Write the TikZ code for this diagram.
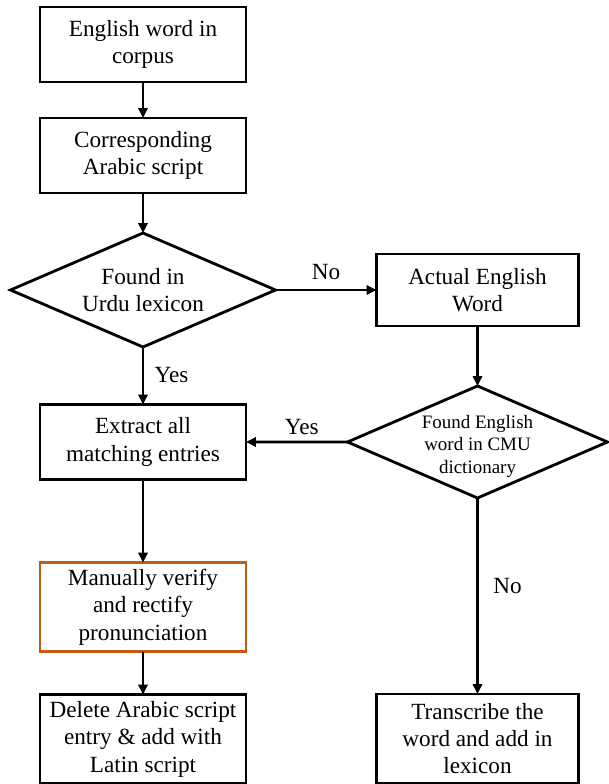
\documentclass[tikz,border=0pt]{standalone}
\usepackage{fontspec}
\setmainfont{Liberation Serif}
\usetikzlibrary{positioning,shapes.geometric,arrows.meta}
\definecolor{verifyorange}{RGB}{197,90,17}
\tikzset{
  stepbox/.style={draw, line width=2pt, outer sep=0pt, minimum width=5.15cm, minimum height=1.875cm,
    align=center, inner sep=2pt, font=\fontsize{16.5}{19.5}\selectfont},
  decision/.style={draw, diamond, line width=2pt, outer sep=0pt, inner sep=0pt},
  flow/.style={-{Triangle[length=7pt,width=6.5pt]}, line width=2pt},
  answer/.style={font=\fontsize{16.5}{19.5}\selectfont}
}

\begin{document}
\begin{tikzpicture}[node distance=0.9cm]
\useasboundingbox (0,0) rectangle (15.2,-19.6);
\node(corpus)     [stepbox] at (3.575,-1.1125) {English word in\\corpus};
\node(arabic)     [stepbox, below=0.9cm of corpus] {Corresponding\\Arabic script};
\node(urdu)       [decision, minimum width=6.625cm, minimum height=2.85cm, below=1cm of arabic,
                   label={[answer, align=center]center:Found in\\Urdu lexicon}] {};
\node(english)    [stepbox, minimum width=5.05cm, minimum height=1.8cm, right=2.525cm of urdu] {Actual English\\Word};
\node(cmu)        [decision, minimum width=6.5cm, minimum height=2.8cm, below=1.5cm of english,
                   label={[align=center, font=\fontsize{13.5}{16}\selectfont, yshift=-3pt]center:Found English\\word in CMU\\dictionary}] {};
\node(extract)    [stepbox, below=1.4375cm of urdu] {Extract all\\matching entries};
\node(verify)     [stepbox, draw=verifyorange, line width=1.6pt, minimum height=2.225cm, below=2.075cm of extract] {Manually verify\\and rectify\\pronunciation};
\node(delete)     [stepbox, minimum height=2.225cm, below=1.075cm of verify] {Delete Arabic script\\entry \& add with\\Latin script};
\node(transcribe) [stepbox, minimum width=5.05cm, minimum height=2.225cm, below=4.9cm of cmu] {Transcribe the\\word and add in\\lexicon};
\draw[flow](corpus) -- (arabic);
\draw[flow](arabic) -- (urdu);
\draw[flow](urdu) -- node[answer, above=3pt] {No} (english);
\draw[flow](urdu) -- node[answer, right=4pt, pos=0.48] {Yes} (extract);
\draw[flow](english) -- (cmu);
\draw[flow](cmu) -- node[answer, above=1pt, pos=0.45] {Yes} (extract);
\draw[flow](cmu) -- node[answer, right=7pt, pos=0.45] {No} (transcribe);
\draw[flow](extract) -- (verify);
\draw[flow](verify) -- (delete);
\end{tikzpicture}
\end{document}
